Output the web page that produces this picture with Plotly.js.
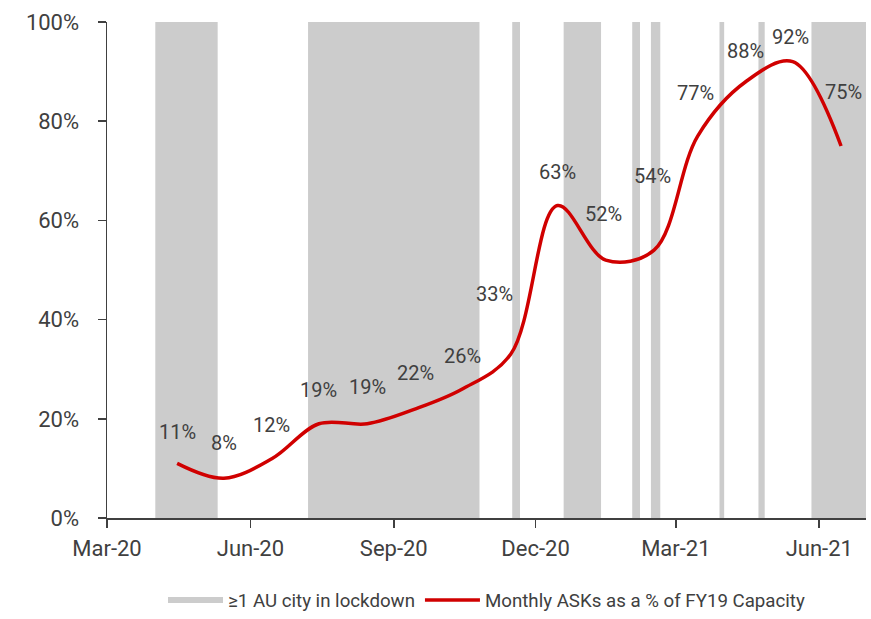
<!DOCTYPE html>
<html>
<head>
<meta charset="utf-8">
<script src="https://cdn.plot.ly/plotly-3.0.1.min.js"></script>
<style>html,body{margin:0;padding:0;background:#fff;}#chart{width:871px;height:619px;}</style>
</head>
<body>
<div id="chart"></div>
<script>
// Monthly data (mid-month)
const months = ['2020-04-15','2020-05-15','2020-06-15','2020-07-15','2020-08-15','2020-09-15','2020-10-15','2020-11-15','2020-12-15','2021-01-15','2021-02-15','2021-03-15','2021-04-15','2021-05-15','2021-06-15'];
const asksPct = [0.11,0.08,0.12,0.19,0.19,0.22,0.26,0.33,0.63,0.52,0.54,0.77,0.88,0.92,0.75];
const asksLabels = ['11%','8%','12%','19%','19%','22%','26%','33%','63%','52%','54%','77%','88%','92%','75%'];

// Lockdown periods (≥1 AU city)
const lockStart = ['2020-04-01','2020-07-08','2020-11-16','2020-12-19','2021-02-01','2021-02-13','2021-03-29','2021-04-23','2021-05-27'];
const lockEnd   = ['2020-05-11','2020-10-26','2020-11-21','2021-01-12','2021-02-06','2021-02-19','2021-04-01','2021-04-27','2021-07-01'];

const xTickVals = ['2020-03-01','2020-06-01','2020-09-01','2020-12-01','2021-03-01','2021-06-01'];
const xTickText = ['Mar-20','Jun-20','Sep-20','Dec-20','Mar-21','Jun-21'];

// label offsets (px) – styling only
const labelShift = [[0,-31],[0,-35],[-1,-33],[0,-34],[0,-37],[0,-36],[0,-33],[-16,-60],[0,-34],[-2,-46],[-2,-74],[-2,-43],[0,-31],[-2,-25],[2,-54]];

const FONT = 'Roboto, "Open Sans", sans-serif';
const TXT = '#404040';

// Build band polygons
const bx = [], by = [];
lockStart.forEach((s, i) => {
  bx.push(s, s, lockEnd[i], lockEnd[i], s, null);
  by.push(0, 1, 1, 0, 0, null);
});

const bands = {
  type: 'scatter', mode: 'none', x: bx, y: by,
  fill: 'toself', fillcolor: '#CCCCCC',
  name: '≥1 AU city in lockdown', hoverinfo: 'skip'
};

const line = {
  type: 'scatter', mode: 'lines', x: months, y: asksPct,
  line: {color: '#D00000', width: 3.5, shape: 'spline', smoothing: 1},
  name: 'Monthly ASKs as a % of FY19 Capacity'
};

const annotations = months.map((m, i) => ({
  x: m, y: asksPct[i], xref: 'x', yref: 'y',
  text: asksLabels[i], showarrow: false,
  xshift: labelShift[i][0], yshift: -labelShift[i][1],
  font: {family: FONT, size: 20, color: TXT}
}));

const layout = {
  width: 871, height: 619,
  margin: {l: 107, r: 5, t: 21.5, b: 100.5, autoexpand: false},
  paper_bgcolor: '#fff', plot_bgcolor: '#fff',
  font: {family: FONT, size: 20, color: TXT},
  showlegend: true,
  legend: {orientation: 'h', x: 0.5, xanchor: 'center', y: -0.166, yanchor: 'middle',
           font: {family: FONT, size: 18.7, color: TXT}, itemwidth: 55, traceorder: 'normal'},
  xaxis: {
    type: 'date', range: ['2020-03-01','2021-07-01'],
    tickmode: 'array', tickvals: xTickVals, ticktext: xTickText,
    showgrid: false, zeroline: false, automargin: false,
    showline: true, linecolor: '#404040', linewidth: 1.5,
    ticks: 'outside', ticklen: 8, tickwidth: 1.5, tickcolor: '#404040',
    tickfont: {family: FONT, size: 22, color: TXT}, ticklabelstandoff: 2
  },
  yaxis: {
    range: [0, 1], tickformat: '.0%', dtick: 0.2, tick0: 0,
    showgrid: false, zeroline: false, automargin: false,
    showline: true, linecolor: '#404040', linewidth: 1.5,
    ticks: 'outside', ticklen: 8, tickwidth: 1.5, tickcolor: '#404040',
    tickfont: {family: FONT, size: 22, color: TXT}, ticklabelstandoff: 14
  },
  annotations: annotations
};

Plotly.newPlot('chart', [bands, line], layout, {staticPlot: true, displayModeBar: false});
</script>
</body>
</html>
